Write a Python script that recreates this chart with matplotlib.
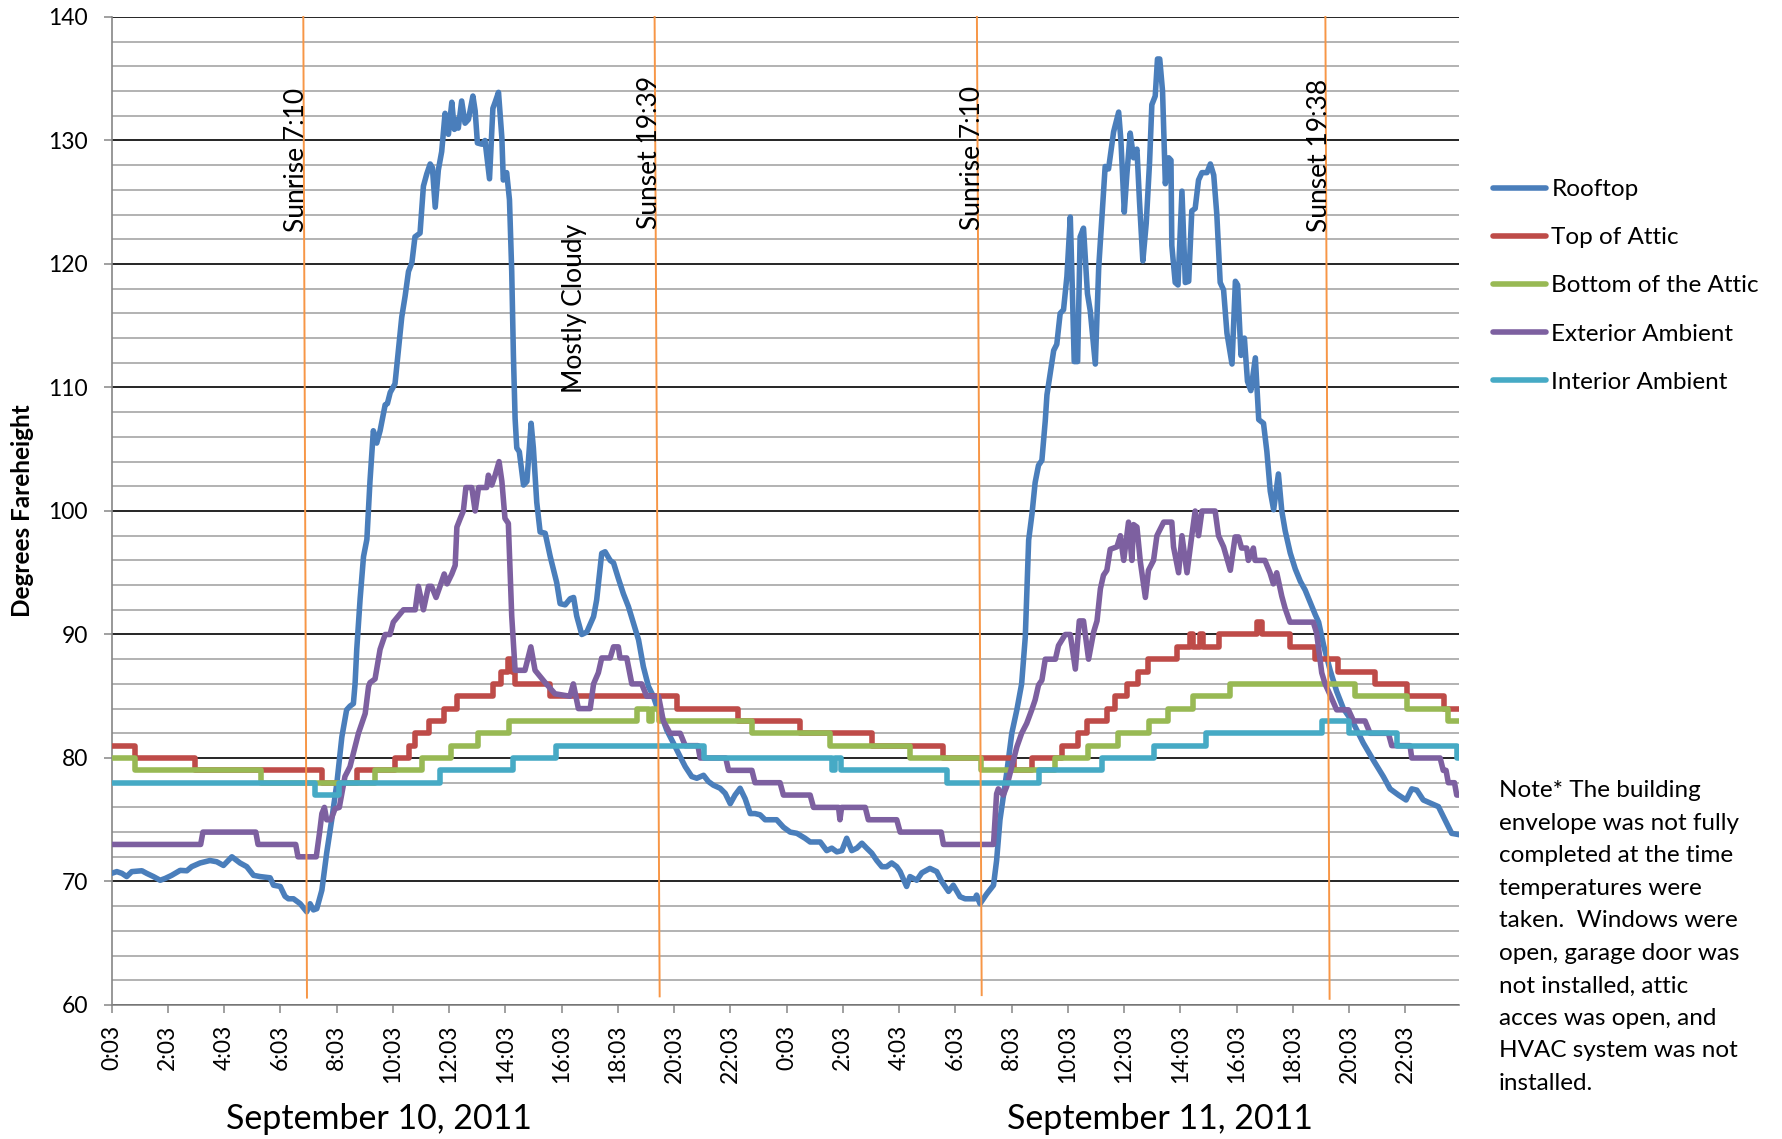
import matplotlib
matplotlib.use("Agg")
import matplotlib.pyplot as plt
from matplotlib.ticker import MultipleLocator
from matplotlib.lines import Line2D

plt.rcParams['font.family'] = ['Lato', 'DejaVu Sans']

# ---------------- data (hours since 0:03 on September 10, 2011) ----------------
rooftop_h = [0, 0.19, 0.37, 0.54, 0.72, 1.08, 1.25, 1.49, 1.73, 1.91, 2.14, 2.44, 2.68, 2.85, 3.15, 3.5, 3.74,
             3.98, 4.28, 4.57, 4.81, 5.05, 5.28, 5.64, 5.76, 6.0, 6.17, 6.29, 6.47, 6.71, 6.94, 7.06, 7.18, 7.3,
             7.48, 7.65, 7.83, 8.01, 8.19, 8.36, 8.48, 8.6, 8.66, 8.72, 8.84, 8.96, 9.08, 9.19, 9.31, 9.43, 9.55,
             9.73, 9.81, 9.91, 10.08, 10.2, 10.32, 10.44, 10.56, 10.68, 10.79, 10.97, 11.09, 11.21, 11.33, 11.41,
             11.51, 11.62, 11.74, 11.86, 11.98, 12.1, 12.19, 12.28, 12.33, 12.45, 12.57, 12.69, 12.85, 12.93,
             13.01, 13.17, 13.28, 13.44, 13.56, 13.64, 13.76, 13.88, 13.93, 14.05, 14.15, 14.23, 14.29, 14.35,
             14.41, 14.5, 14.65, 14.77, 14.92, 15.0, 15.12, 15.24, 15.42, 15.6, 15.83, 15.95, 16.13, 16.31, 16.43,
             16.54, 16.72, 16.9, 17.14, 17.25, 17.43, 17.55, 17.73, 17.85, 18.02, 18.2, 18.38, 18.56, 18.74, 18.91,
             19.09, 19.27, 19.39, 19.57, 19.74, 19.98, 20.22, 20.4, 20.63, 20.81, 21.05, 21.22, 21.4, 21.64, 21.82,
             22.0, 22.17, 22.35, 22.53, 22.71, 22.88, 23.06, 23.24, 23.42, 23.65, 23.89, 24.13, 24.37, 24.66,
             24.84, 25.02, 25.2, 25.43, 25.61, 25.79, 25.97, 26.14, 26.32, 26.5, 26.68, 26.85, 27.03, 27.21,
             27.39, 27.56, 27.74, 27.92, 28.04, 28.27, 28.39, 28.63, 28.81, 29.1, 29.34, 29.52, 29.76, 29.93,
             30.17, 30.35, 30.53, 30.7, 30.76, 30.88, 31.12, 31.36, 31.47, 31.59, 31.71, 31.83, 32.01, 32.19,
             32.36, 32.49, 32.61, 32.73, 32.84, 32.96, 33.08, 33.2, 33.26, 33.38, 33.5, 33.61, 33.73, 33.85,
             33.97, 34.09, 34.15, 34.23, 34.35, 34.44, 34.56, 34.7, 34.8, 34.98, 35.1, 35.21, 35.33, 35.45,
             35.63, 35.81, 35.89, 36.01, 36.1, 36.22, 36.34, 36.46, 36.55, 36.67, 36.79, 36.91, 36.99, 37.11,
             37.19, 37.27, 37.37, 37.47, 37.59, 37.67, 37.7, 37.82, 37.92, 38.06, 38.18, 38.3, 38.41, 38.53,
             38.65, 38.77, 38.95, 39.07, 39.19, 39.3, 39.42, 39.54, 39.66, 39.84, 39.96, 40.04, 40.16, 40.28,
             40.39, 40.51, 40.67, 40.79, 40.96, 41.08, 41.2, 41.32, 41.49, 41.61, 41.73, 41.91, 42.09, 42.27,
             42.44, 42.62, 42.8, 42.92, 43.1, 43.33, 43.56, 43.8, 44.16, 44.51, 44.87, 45.22, 45.46, 45.76,
             46.03, 46.23, 46.41, 46.64, 46.94, 47.18, 47.41, 47.65, 47.9]
rooftop_t = [70.66, 70.8, 70.66, 70.4, 70.8, 70.87, 70.66, 70.4, 70.1, 70.25, 70.5, 70.9, 70.87, 71.2, 71.5, 71.7,
             71.6, 71.3, 72.0, 71.5, 71.2, 70.5, 70.4, 70.3, 69.7, 69.6, 68.8, 68.6, 68.6, 68.2, 67.55, 68.2, 67.7,
             67.8, 69.3, 72.3, 75.0, 77.9, 81.7, 83.9, 84.2, 84.4, 86.0, 88.8, 92.9, 96.3, 97.7, 102.4, 106.5,
             105.5, 106.5, 108.6, 108.7, 109.6, 110.3, 113.0, 115.7, 117.4, 119.4, 120.1, 122.2, 122.5, 126.3,
             127.3, 128.1, 127.8, 124.6, 127.6, 129.1, 132.2, 130.5, 133.1, 130.9, 131.7, 131.0, 133.2, 131.4,
             131.7, 133.6, 132.4, 129.8, 129.7, 130.0, 126.9, 132.6, 133.1, 133.9, 130.2, 126.8, 127.4, 125.2,
             119.4, 112.6, 107.5, 105.1, 104.8, 102.1, 102.4, 107.1, 105.1, 100.7, 98.3, 98.2, 96.3, 94.2, 92.5,
             92.4, 92.9, 93.0, 91.5, 90.0, 90.2, 91.45, 92.8, 96.57, 96.7, 96.0, 95.8, 94.55, 93.3, 92.25, 90.9,
             89.56, 87.4, 85.8, 84.97, 84.16, 83.35, 82.27, 81.2, 80.1, 79.3, 78.5, 78.36, 78.6, 78.1, 77.8,
             77.55, 77.14, 76.3, 77.0, 77.55, 76.7, 75.5, 75.5, 75.4, 75.0, 75.0, 75.0, 74.4, 74.0, 73.9, 73.5,
             73.2, 73.2, 73.2, 72.5, 72.7, 72.4, 72.5, 73.5, 72.5, 72.7, 73.1, 72.7, 72.3, 71.7, 71.2, 71.2,
             71.5, 71.2, 70.8, 69.6, 70.4, 70.1, 70.7, 71.06, 70.8, 70.0, 69.2, 69.7, 68.77, 68.6, 68.6, 68.6,
             68.9, 68.2, 69.0, 69.7, 71.7, 75.0, 76.9, 78.8, 82.0, 83.9, 86.0, 89.8, 97.65, 99.8, 102.3, 103.7,
             104.1, 107.3, 109.4, 111.2, 113.0, 113.5, 116.0, 116.3, 119.0, 123.8, 119.0, 112.1, 112.1, 122.2,
             122.9, 117.6, 116.2, 111.9, 119.7, 123.6, 127.9, 127.7, 130.7, 132.3, 130.0, 124.2, 127.2, 130.6,
             128.6, 129.3, 125.1, 120.25, 123.3, 128.3, 132.9, 133.6, 136.6, 136.6, 134.0, 126.5, 128.6, 128.4,
             121.5, 118.5, 118.3, 125.9, 118.5, 118.6, 124.3, 124.5, 126.8, 127.4, 127.4, 128.1, 127.2, 124.0,
             118.5, 117.9, 114.4, 111.9, 118.6, 118.3, 112.6, 114.0, 110.5, 109.75, 112.4, 107.4, 107.1, 104.8,
             101.6, 100.1, 103.0, 100.0, 98.4, 96.6, 95.3, 94.3, 93.6, 92.6, 91.6, 91.0, 89.1, 87.1, 85.4, 84.0,
             82.8, 81.2, 79.8, 78.5, 77.5, 77.0, 76.6, 77.5, 77.4, 76.6, 76.3, 76.06, 75.0, 73.9, 73.8]

attic_h = [0, 0.84, 2.97, 7.48, 8.72, 10.08, 10.56, 10.8, 11.28, 11.83, 12.28, 13.55, 13.85, 14.1, 14.25, 14.35,
           15.6, 20.1, 22.29, 24.48, 27.03, 29.55, 32.1, 32.72, 33.8, 34.35, 34.68, 35.39, 35.68, 36.1, 36.51,
           36.87, 37.88, 38.35, 38.47, 38.71, 38.82, 39.36, 40.72, 40.9, 41.91, 42.8, 43.62, 44.93, 46.05, 47.36,
           47.9]
attic_t = [81, 80, 79, 78, 79, 80, 81, 82, 83, 84, 85, 86, 87, 88, 87, 86, 85, 84, 83, 82, 81, 80, 79, 80, 81, 82,
           83, 84, 85, 86, 87, 88, 89, 90, 89, 90, 89, 90, 91, 90, 89, 88, 87, 86, 85, 84, 84]

bottom_h = [0, 0.85, 5.33, 9.37, 11.04, 12.07, 13.02, 14.13, 18.68, 19.1, 19.2, 19.45, 22.77, 25.55, 28.38, 30.92,
            33.54, 34.72, 35.8, 36.9, 37.55, 38.47, 39.77, 44.22, 46.05, 47.53, 47.9]
bottom_t = [80, 79, 78, 79, 80, 81, 82, 83, 84, 83, 84, 83, 82, 81, 80, 79, 80, 81, 82, 83, 84, 85, 86, 85, 84,
            83, 83]

exterior_h = [0, 3.17, 3.25, 5.13, 5.21, 6.55, 6.63, 7.28, 7.4, 7.48, 7.57, 7.65, 7.8, 7.95, 8.1, 8.3, 8.48, 8.78,
              9.02, 9.14, 9.19, 9.37, 9.55, 9.73, 9.9, 10.02, 10.38, 10.8, 10.91, 11.09, 11.27, 11.38, 11.54,
              11.68, 11.83, 11.93, 12.1, 12.22, 12.28, 12.4, 12.51, 12.6, 12.81, 12.93, 13.05, 13.34, 13.4,
              13.52, 13.64, 13.78, 13.88, 13.99, 14.11, 14.23, 14.35, 14.7, 14.91, 15.06, 15.24, 15.42, 15.77,
              16.3, 16.42, 16.6, 17.02, 17.14, 17.31, 17.43, 17.73, 17.85, 18.02, 18.08, 18.32, 18.5, 18.85,
              19.03, 19.45, 19.62, 19.86, 20.22, 20.4, 20.85, 20.93, 21.84, 21.94, 22.77, 22.88, 23.77, 23.89,
              24.84, 24.96, 25.85, 25.9, 25.96, 26.8, 26.91, 27.92, 28.04, 29.5, 29.58, 31.36, 31.47, 31.53,
              31.71, 31.83, 32.01, 32.19, 32.36, 32.54, 32.72, 32.84, 32.96, 33.08, 33.2, 33.56, 33.67, 33.91,
              34.09, 34.27, 34.41, 34.56, 34.74, 34.92, 35.04, 35.16, 35.27, 35.39, 35.51, 35.75, 35.87, 35.99,
              36.16, 36.28, 36.34, 36.46, 36.58, 36.76, 36.87, 37.05, 37.17, 37.41, 37.7, 37.76, 37.94, 38.06,
              38.24, 38.41, 38.53, 38.65, 38.77, 39.24, 39.36, 39.54, 39.78, 39.95, 40.07, 40.18, 40.36, 40.42,
              40.6, 40.66, 41.01, 41.19, 41.31, 41.43, 41.61, 41.73, 41.9, 42.73, 42.85, 43.03, 43.15, 43.33,
              43.56, 43.98, 44.16, 44.57, 44.75, 45.4, 45.52, 46.17, 46.23, 47.24, 47.35, 47.45, 47.53, 47.75,
              47.83, 47.9]
exterior_t = [73, 73, 74, 74, 73, 73, 72, 72, 74, 75.5, 76, 75, 75, 75.9, 76, 78.5, 79.3, 82, 83.6, 85.8, 86.1,
              86.4, 88.8, 90, 90, 91, 92, 92, 93.9, 92, 93.9, 93.9, 93, 93.9, 94.9, 94.1, 94.9, 95.6, 98.7, 99.4,
              100, 101.9, 101.9, 100, 101.9, 101.9, 102.9, 102.1, 102.9, 104, 102.4, 99.4, 99, 91.5, 87.1, 87.1,
              89, 87.1, 86.6, 86.1, 85.2, 85, 86, 84, 84, 86, 86.9, 88.1, 88.1, 89, 89, 88.1, 88.1, 86, 86, 85, 85,
              83, 82, 82, 81, 81, 80, 80, 79, 79, 78, 78, 77, 77, 76, 76, 75, 76, 76, 75, 75, 74, 74, 73, 73,
              77.1, 77.5, 77, 77.7, 79.3, 80.9, 82, 82.8, 83.9, 84.7, 85.9, 86.3, 88, 88, 89.1, 90, 90, 87.2,
              91.1, 91.1, 88, 90.2, 91.1, 93.7, 94.8, 95.2, 96.9, 97.1, 98, 96, 99.1, 96, 98.9, 98.7, 95.9, 93,
              95.2, 96, 98, 99.1, 99.1, 97.1, 95, 98, 95, 98, 100, 98, 100, 100, 98, 97.1, 95.2, 97.9, 97.9, 97,
              97, 96, 97, 96, 96, 95, 94.1, 95, 93.1, 92.1, 91, 91, 90.1, 86.9, 86, 85.1, 83.9, 83.9, 83, 83, 82,
              82, 81, 81, 80, 80, 79, 79, 78, 78, 77, 77]

interior_h = [0, 7.25, 8.1, 11.67, 14.28, 15.8, 21.05, 25.62, 25.72, 25.95, 29.7, 32.96, 35.2, 37.07, 38.9, 43.03,
              44.0, 45.7, 47.83, 47.9]
interior_t = [78, 77, 78, 79, 80, 81, 80, 79, 80, 79, 78, 79, 80, 81, 82, 83, 82, 81, 80, 80]

series_names = ["Rooftop", "Top of Attic", "Bottom of the Attic", "Exterior Ambient", "Interior Ambient"]
series_colors = ["#4A7EBB", "#BE4B48", "#98B954", "#7D60A0", "#46AAC5"]

# sunrise / sunset marker lines (slightly slanted shapes in the original)
event_labels = ["Sunrise 7:10", "Sunset 19:39", "Sunrise 7:10", "Sunset 19:38"]
event_top_h = [6.82, 19.31, 30.77, 43.16]
event_bottom_h = [6.95, 19.49, 30.94, 43.31]
event_bottom_t = [60.6, 60.7, 60.8, 60.5]
event_label_h = [7.02, 19.56, 31.06, 43.38]
event_label_t = [122.6, 122.8, 122.75, 122.6]
cloud_label = "Mostly Cloudy"
cloud_h, cloud_t = 16.9, 109.55

tick_hours = list(range(0, 47, 2))
tick_labels = ["%d:03" % (h % 24) for h in tick_hours]
day_labels = ["September 10, 2011", "September 11, 2011"]
note = ("Note* The building\nenvelope was not fully\ncompleted at the time\ntemperatures were\n"
        "taken.  Windows were\nopen, garage door was\nnot installed, attic\nacces was open, and\n"
        "HVAC system was not\ninstalled.")

# ---------------- figure ----------------
W, H = 1782, 1139
fig = plt.figure(figsize=(W / 100, H / 100), dpi=100)
left, right, top, bottom = 111.5, 1458.7, 17, 1005
ax = fig.add_axes([left / W, 1 - bottom / H, (right - left) / W, (bottom - top) / H])

lw = 4.0
ax.plot(rooftop_h, rooftop_t, color=series_colors[0], lw=lw, solid_joinstyle='round', zorder=3)
ax.plot(attic_h, attic_t, color=series_colors[1], lw=lw, drawstyle='steps-post', zorder=4)
ax.plot(bottom_h, bottom_t, color=series_colors[2], lw=lw, drawstyle='steps-post', zorder=5)
ax.plot(exterior_h, exterior_t, color=series_colors[3], lw=lw, solid_joinstyle='round', zorder=6)
ax.plot(interior_h, interior_t, color=series_colors[4], lw=lw, drawstyle='steps-post', zorder=7)

for th, bh, bt in zip(event_top_h, event_bottom_h, event_bottom_t):
    ax.plot([th, bh], [140, bt], color="#F79646", lw=1.4, zorder=8, clip_on=False)
for lab, lh, lt in zip(event_labels, event_label_h, event_label_t):
    ax.text(lh, lt, lab, rotation=90, ha='right', va='bottom', fontsize=19, zorder=9)
ax.text(cloud_h, cloud_t, cloud_label, rotation=90, ha='right', va='bottom', fontsize=19, zorder=9)

ax.set_xlim(0, 47.9)
ax.set_ylim(60, 140)
ax.set_yticks(range(60, 141, 10))
ax.yaxis.set_minor_locator(MultipleLocator(2))
ax.set_xticks(tick_hours)
ax.set_xticklabels(tick_labels, rotation=90, va='top', ha='center')
ax.set_axisbelow(True)
ax.grid(which='major', axis='y', color='black', lw=1.2)
ax.grid(which='minor', axis='y', color='#A6A6A6', lw=1.2)
ax.grid(which='major', axis='x', visible=False)
ax.tick_params(axis='y', which='minor', length=0)
ax.tick_params(axis='y', which='major', length=6, width=1.1, color='#868686', pad=11, labelsize=16.5)
ax.tick_params(axis='x', which='major', length=6, width=1.1, color='#868686', pad=8, labelsize=16.5)
for s in ['top', 'right']:
    ax.spines[s].set_visible(False)
for s in ['left', 'bottom']:
    ax.spines[s].set_color('#868686')
    ax.spines[s].set_linewidth(1.2)

handles = [Line2D([0], [0], color=c, lw=lw, solid_capstyle='round') for c in series_colors]
ax.legend(handles, series_names, loc='upper left', bbox_to_anchor=(1493 / W, 1 - 179 / H),
          bbox_transform=fig.transFigure, frameon=False, handlelength=2.2, handletextpad=0.2,
          labelspacing=1.12, borderpad=0, borderaxespad=0, fontsize=17.5)

fig.text(1499 / W, 1 - 780 / H, note, ha='left', va='top', fontsize=17.5, linespacing=1.68)
fig.text(379 / W, 1 - 1119 / H, day_labels[0], ha='center', va='center', fontsize=24.5)
fig.text(1160 / W, 1 - 1119 / H, day_labels[1], ha='center', va='center', fontsize=24.5)
fig.text(23 / W, 1 - 511 / H, "Degrees Fareheight", rotation=90, ha='center', va='center',
         fontsize=17.5, fontweight='bold')

fig.savefig("out.png", dpi=100)
